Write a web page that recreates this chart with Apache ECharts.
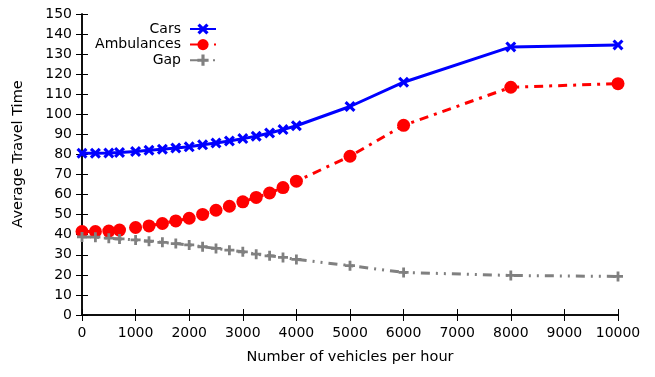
<!DOCTYPE html>
<html>
<head>
<meta charset="utf-8">
<script src="https://cdn.jsdelivr.net/npm/echarts@6/dist/echarts.min.js"></script>
<style>
html,body{margin:0;padding:0;background:#fff;}
#c{width:655px;height:377px;}
</style>
</head>
<body>
<div id="c"></div>
<script>
const vehicles = [0,250,500,700,1000,1250,1500,1750,2000,2250,2500,2750,3000,3250,3500,3750,4000,5000,6000,8000,10000];
const cars = [80.6,80.6,80.7,81.0,81.5,82.1,82.6,83.2,83.8,84.8,85.7,86.7,87.9,89.1,90.7,92.4,94.3,103.9,116.0,133.6,134.6];
const ambulances = [41.6,41.6,41.8,42.3,43.6,44.4,45.6,46.9,48.2,50.1,52.2,54.2,56.4,58.6,60.8,63.5,66.7,79.1,94.5,113.5,115.3];
const gap = [38.9,38.8,38.3,37.9,37.4,36.8,36.2,35.6,34.9,34.0,33.2,32.3,31.5,30.3,29.5,28.7,27.7,24.6,21.2,19.7,19.2];
const seriesNames = ['Cars','Ambulances','Gap'];
const xTitle = 'Number of vehicles per hour';
const yTitle = 'Average Travel Time';

const FONT = 'DejaVu Sans';
const FS = 14;
const TFS = 14.5;
const xSym = 'path://M0,2 L2,0 L5,3 L8,0 L10,2 L7,5 L10,8 L8,10 L5,7 L2,10 L0,8 L3,5 Z';
const plusSym = 'path://M3.6,0 H6.4 V3.6 H10 V6.4 H6.4 V10 H3.6 V6.4 H0 V3.6 H3.6 Z';

function pairs(ys){ return vehicles.map((x,i)=>[x, ys[i]]); }

const chart = echarts.init(document.getElementById('c'), null, {renderer:'canvas'});
const baseX = {
  type:'value', min:0, max:10000, interval:1000,
  axisLine:{show:true, lineStyle:{color:'#000', width:1.5}},
  axisTick:{show:true, inside:true, length:6, lineStyle:{color:'#000', width:1}},
  splitLine:{show:false}
};
const baseY = {
  type:'value', min:0, max:150, interval:10,
  axisLine:{show:true, lineStyle:{color:'#000', width:1.5}},
  axisTick:{show:true, inside:true, length:6, lineStyle:{color:'#000', width:1}},
  splitLine:{show:false}
};
chart.setOption({
  animation:false,
  backgroundColor:'#fff',
  textStyle:{fontFamily:FONT},
  grid:{left:82, right:37, top:14, bottom:62, containLabel:false},
  xAxis:[
    Object.assign({}, baseX, {position:'bottom',
      axisLabel:{margin:11, color:'#000', fontSize:FS, fontFamily:FONT, formatter:v=>String(v)},
      name:xTitle, nameLocation:'middle', nameGap:35,
      nameTextStyle:{color:'#000', fontSize:TFS, fontFamily:FONT}}),
    Object.assign({}, baseX, {position:'top', axisLabel:{show:false}})
  ],
  yAxis:[
    Object.assign({}, baseY, {position:'left',
      axisLabel:{margin:10, color:'#000', fontSize:FS, fontFamily:FONT, formatter:v=>String(v)}}),
    Object.assign({}, baseY, {position:'right', axisLabel:{show:false}})
  ],
  legend:{
    orient:'vertical', align:'right', right:433, top:17,
    itemWidth:26, itemHeight:14, itemGap:1.6,
    textStyle:{color:'#000', fontSize:FS, fontFamily:FONT, padding:[0,4,0,0]},
    data:seriesNames
  },
  graphic:[{
    type:'text', x:18, y:154, rotation:Math.PI/2,
    style:{text:yTitle, fill:'#000', font:TFS+'px "DejaVu Sans"', align:'center', verticalAlign:'middle'}
  }],
  series:[
    {name:seriesNames[0], type:'line', data:pairs(cars), symbol:xSym, symbolSize:11,
     color:'#0000ff', lineStyle:{width:3, color:'#0000ff', type:'solid'},
     itemStyle:{color:'#0000ff'}},
    {name:seriesNames[1], type:'line', data:pairs(ambulances), symbol:'circle', symbolSize:13,
     color:'#ff0000', lineStyle:{width:3, color:'#ff0000', type:[9,6,3,6]},
     itemStyle:{color:'#ff0000'}},
    {name:seriesNames[2], type:'line', data:pairs(gap), symbol:plusSym, symbolSize:10,
     color:'#808080', lineStyle:{width:3, color:'#808080', type:[9,6,2,6,2,6]},
     itemStyle:{color:'#808080'}}
  ]
});
</script>
</body>
</html>
